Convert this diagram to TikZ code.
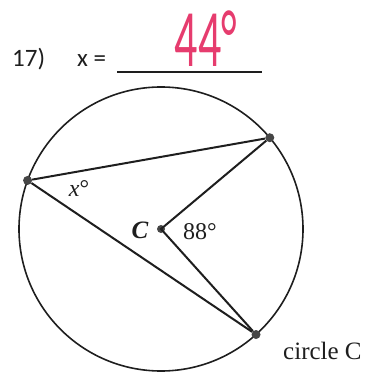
\documentclass[tikz,border=0pt]{standalone}
\usepackage{fontspec}
\setmainfont{Liberation Serif}
\newfontfamily\headfont{Carlito}
\usepackage{tikz}
\usetikzlibrary{positioning,calc}
\definecolor{ink}{RGB}{30,30,30}
\definecolor{dotgray}{RGB}{70,70,70}
\definecolor{penred}{RGB}{230,60,110}

\begin{document}
\begin{tikzpicture}[
x=1pt, y=1pt,
vertex/.style={circle, fill=dotgray, inner sep=0pt, minimum size=9pt},
chord/.style={line width=2pt, draw=ink},
label/.style={font=\fontsize{24}{24}\selectfont, text=ink, inner sep=0pt},
head/.style={font=\headfont\fontsize{25}{25}\selectfont, text=ink, inner sep=0pt}
]
\useasboundingbox (0,0) rectangle (365,373);
% circle and its points
\coordinate (C) at (161,144);
\draw[line width=1.6pt, draw=ink] (C) circle (142);
\node[vertex] (a) at ($(C)+(160:142)$) {};
\node[vertex] (b) at ($(C)+(40:142)$) {};
\node[vertex] (d) at ($(C)+(-48:142)$) {};
\node[vertex, minimum size=8pt] (c) at (C) {};
\draw[chord] (a) -- (b);
\draw[chord] (a) -- (d);
\draw[chord] (b) -- (c.center) -- (d);
% labels
\node[label] (xl) at (79,184) {\textit{x}°};
\node[label, font=\fontsize{25}{25}\selectfont\bfseries\itshape] (cl) at (140,143) {C};
\node[label] (al) at (200,141) {88°};
\node[label, font=\fontsize{25}{25}\selectfont, anchor=base west] (cc) at (283,13) {circle C};
% question line
\node[head, anchor=base west] (q) at (12,306) {17)};
\node[head, anchor=base west] (xeq) at (77,306) {x =};
\coordinate (u1) at (117,301);
\coordinate (u2) at (262,301);
\draw[line width=1.4pt, draw=ink] (u1) -- (u2);
\node[inner sep=0pt, text=penred] (ans) at (206,334) {\scalebox{1.35}[2.4]{\headfont\fontsize{34}{34}\selectfont 44°}};
\end{tikzpicture}
\end{document}
